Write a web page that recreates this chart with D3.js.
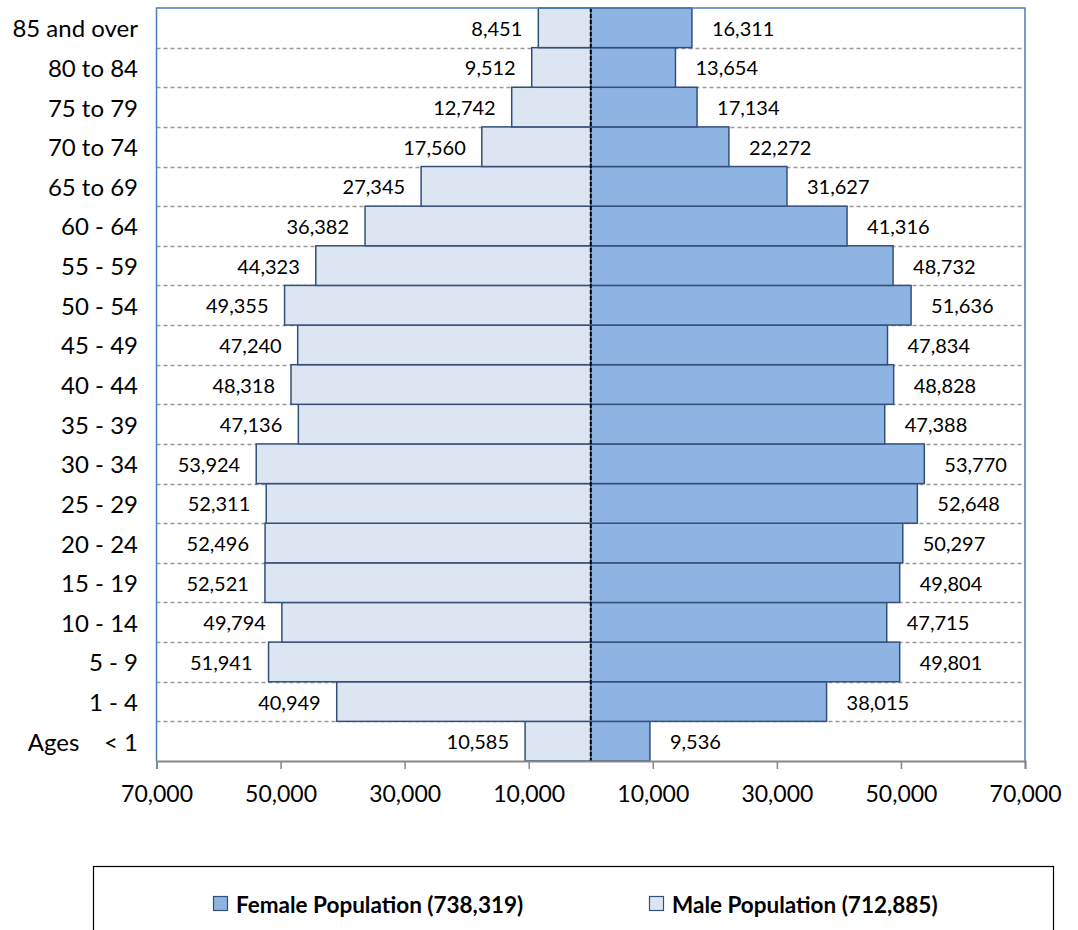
<!DOCTYPE html>
<html>
<head>
<meta charset="utf-8">
<script src="https://cdn.jsdelivr.net/npm/d3@7"></script>
<style>
  html, body { margin: 0; padding: 0; background: #fff; }
  svg { display: block; font-family: Lato, "Open Sans", sans-serif; }
</style>
</head>
<body>
<svg id="chart" width="1078" height="930"></svg>
<script>
// ---- data (youngest to oldest) ----
const categories = ["Ages    < 1", "1 - 4", "5 - 9", "10 - 14", "15 - 19", "20 - 24", "25 - 29", "30 - 34",
  "35 - 39", "40 - 44", "45 - 49", "50 - 54", "55 - 59", "60 - 64", "65 to 69", "70 to 74",
  "75 to 79", "80 to 84", "85 and over"];
const maleValues = [10585, 40949, 51941, 49794, 52521, 52496, 52311, 53924, 47136, 48318, 47240,
  49355, 44323, 36382, 27345, 17560, 12742, 9512, 8451];
const femaleValues = [9536, 38015, 49801, 47715, 49804, 50297, 52648, 53770, 47388, 48828, 47834,
  51636, 48732, 41316, 31627, 22272, 17134, 13654, 16311];
const tickValues = [-70000, -50000, -30000, -10000, 10000, 30000, 50000, 70000];
const legendLabels = ["Female Population (738,319)", "Male Population (712,885)"];

// ---- layout ----
const svg = d3.select("#chart");
const plot = { left: 156.5, right: 1025, top: 8, bottom: 761 };
const maleFill = "#DCE6F2", femaleFill = "#8EB4E3", barStroke = "#34507A";
const fmt = d3.format(",");

const x = d3.scaleLinear().domain([-70000, 70000]).range([plot.left, plot.right]);
const y = d3.scaleBand().domain(categories.slice().reverse()).range([plot.top, plot.bottom]).padding(0);

const rows = categories.map((c, i) => ({ cat: c, male: maleValues[i], female: femaleValues[i] }));

// gridlines (dashed, at band boundaries)
const gridG = svg.append("g");
categories.slice().reverse().forEach((c, i) => {
  if (i === 0) return;
  const yy = Math.round(y(c)) + 0.5;
  gridG.append("line").attr("x1", plot.left).attr("x2", plot.right)
    .attr("y1", yy).attr("y2", yy)
    .attr("stroke", "#999").attr("stroke-width", 1.3).attr("stroke-dasharray", "4,3");
});

// bars
const barsG = svg.append("g");
barsG.selectAll("rect.male").data(rows).join("rect")
  .attr("class", "male")
  .attr("x", d => x(-d.male)).attr("width", d => x(0) - x(-d.male))
  .attr("y", d => y(d.cat)).attr("height", y.bandwidth())
  .attr("fill", maleFill).attr("stroke", barStroke).attr("stroke-width", 1.5);
barsG.selectAll("rect.female").data(rows).join("rect")
  .attr("class", "female")
  .attr("x", x(0)).attr("width", d => x(d.female) - x(0))
  .attr("y", d => y(d.cat)).attr("height", y.bandwidth())
  .attr("fill", femaleFill).attr("stroke", barStroke).attr("stroke-width", 1.5);

// center dashed line
svg.append("line").attr("x1", x(0)).attr("x2", x(0)).attr("y1", plot.top).attr("y2", plot.bottom)
  .attr("stroke", "#000").attr("stroke-width", 2).attr("stroke-dasharray", "4,2");

// plot border (blue left/top/right)
svg.append("path")
  .attr("d", `M${plot.left},${plot.bottom} V${plot.top} H${plot.right} V${plot.bottom}`)
  .attr("fill", "none").attr("stroke", "#4A7EBB").attr("stroke-width", 1.5);

// bottom axis
const axis = d3.axisBottom(x).tickValues(tickValues).tickSize(8).tickPadding(17)
  .tickFormat(d => fmt(Math.abs(d)));
const axG = svg.append("g").attr("transform", `translate(0,${plot.bottom})`).call(axis);
axG.select(".domain").attr("stroke", "#888").attr("stroke-width", 2);
axG.selectAll(".tick line").attr("stroke", "#888").attr("stroke-width", 1.5);
axG.selectAll(".tick text").attr("fill", "#000").style("font-size", "23px")
  .style("font-family", "Lato, sans-serif");

// data labels
const lblG = svg.append("g").style("font-size", "20px").attr("fill", "#000");
lblG.selectAll("text.ml").data(rows).join("text")
  .attr("x", d => x(-d.male) - 16).attr("y", d => y(d.cat) + y.bandwidth() / 2)
  .attr("text-anchor", "end").attr("dominant-baseline", "central")
  .text(d => fmt(d.male));
lblG.selectAll("text.fl").data(rows).join("text")
  .attr("x", d => x(d.female) + 20).attr("y", d => y(d.cat) + y.bandwidth() / 2)
  .attr("text-anchor", "start").attr("dominant-baseline", "central")
  .text(d => fmt(d.female));

// category labels
svg.append("g").selectAll("text").data(categories).join("text")
  .attr("x", 138).attr("y", d => y(d) + y.bandwidth() / 2)
  .attr("text-anchor", "end").attr("dominant-baseline", "central")
  .style("font-size", "24px").style("white-space", "pre")
  .text(d => d);

// legend
const lg = svg.append("g");
lg.append("rect").attr("x", 93.5).attr("y", 866.5).attr("width", 960).attr("height", 100)
  .attr("fill", "#fff").attr("stroke", "#000").attr("stroke-width", 1.2);
const legendItems = [
  { label: legendLabels[0], fill: femaleFill, x: 213 },
  { label: legendLabels[1], fill: maleFill, x: 649 }
];
legendItems.forEach(it => {
  lg.append("rect").attr("x", it.x + 0.5).attr("y", 896.5).attr("width", 14).attr("height", 14)
    .attr("fill", it.fill).attr("stroke", barStroke).attr("stroke-width", 1.2);
  lg.append("text").attr("x", it.x + 23).attr("y", 904)
    .attr("dominant-baseline", "central")
    .style("font-size", "22.5px").style("font-weight", "bold")
    .text(it.label);
});
</script>
</body>
</html>
